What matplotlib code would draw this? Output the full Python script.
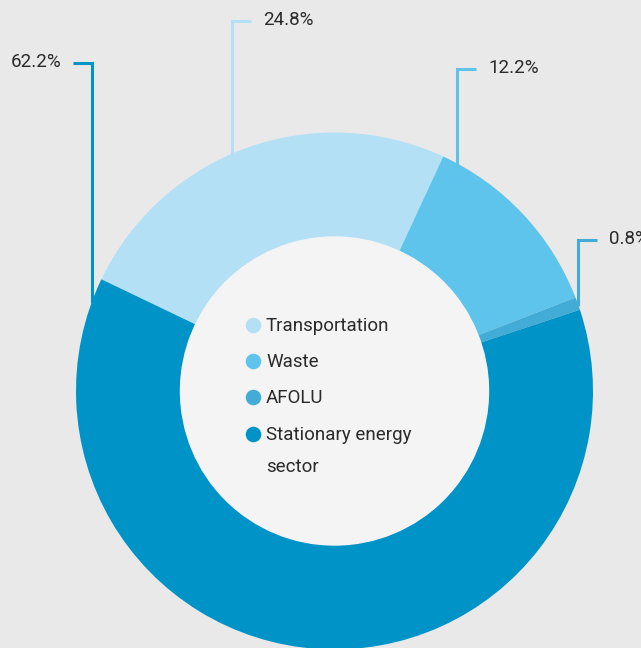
import numpy as np
import matplotlib.pyplot as plt

# data
categories = ["Transportation", "Waste", "AFOLU", "Stationary energy\nsector"]
shares = [24.8, 12.2, 0.8, 62.2]
colors = ["#b3e0f5", "#5fc4ec", "#42acd6", "#0093c7"]

plt.rcParams['font.family'] = ['Roboto', 'DejaVu Sans']

W, H = 641, 648
fig = plt.figure(figsize=(W / 100, H / 100), dpi=100, facecolor="#e9e9e9")
ax = fig.add_axes([0, 0, 1, 1])

cx, cy = 334.5, H - 391
r_out, r_in = 258.5, 154

ax.pie(shares, colors=colors, startangle=154.4, counterclock=False,
       center=(cx, cy), radius=r_out, frame=True,
       wedgeprops=dict(width=r_out - r_in, linewidth=0))
ax.set_xlim(0, W)
ax.set_ylim(0, H)
ax.set_aspect("equal")
ax.axis("off")

# inner disc
ax.add_patch(plt.Circle((cx, cy), r_in, color="#f4f4f4", zorder=3))

# leader lines: anchor angle on the ring, label height (px from top), side
anchor_deg = [113.4, 61.7, 19.6, 159.7]
label_top = [21, 69, 240, 63]
side = [1, 1, 1, -1]

for share, col, a, ly, s in zip(shares, colors, anchor_deg, label_top, side):
    ax0 = cx + r_out * np.cos(np.radians(a))
    ay0 = cy + r_out * np.sin(np.radians(a))
    y = H - ly
    ax.plot([ax0, ax0, ax0 + s * 19], [ay0 - 2, y, y], color=col, lw=2.2,
            solid_capstyle="butt", solid_joinstyle="miter", zorder=1)
    tx = ax0 + s * 31
    ax.text(tx, y + 1, f"{share}%", fontsize=13.5, color="#2a2a2a",
            ha="left" if s > 0 else "right", va="center")

# legend inside the hole
leg_y = [325, 361, 397, 434]
for cat, col, ly in zip(categories, colors, leg_y):
    ax.scatter([253], [H - ly], s=125, color=col, zorder=4, linewidths=0)
    ax.text(266, H - ly + 8, cat, fontsize=13.5, color="#2a2a2a", va="top",
            linespacing=2.0, zorder=5)

fig.savefig("out.png", dpi=100, facecolor=fig.get_facecolor())
